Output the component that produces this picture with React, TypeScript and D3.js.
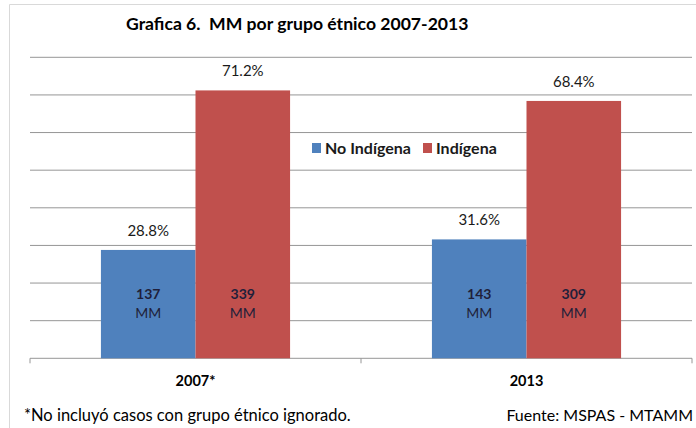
import React from "react";
import * as d3 from "d3";

const categories = ["2007*", "2013"];
const seriesNames = ["No Indígena", "Indígena"];
const pctNoIndigena = [28.8, 31.6];
const pctIndigena = [71.2, 68.4];
const countNoIndigena = [137, 143];
const countIndigena = [339, 309];
const yTicks = [0, 10, 20, 30, 40, 50, 60, 70, 80];
const colors = ["#4F81BD", "#C0504D"];

const W = 696;
const H = 428;
const FONT = "Lato, 'Open Sans', sans-serif";

export default function App() {
  const left = 30;
  const right = 692;
  const top = 57.3;
  const bottom = 358.3;

  const x0 = d3.scaleBand<string>().domain(categories).range([left, right]).paddingInner(0).paddingOuter(0);
  const x1 = d3
    .scaleBand<string>()
    .domain(seriesNames)
    .range([0, x0.bandwidth()])
    .paddingOuter(0.75)
    .paddingInner(0);
  const y = d3.scaleLinear().domain([0, 80]).range([bottom, top]);

  const series = [
    { name: seriesNames[0], pct: pctNoIndigena, count: countNoIndigena, color: colors[0] },
    { name: seriesNames[1], pct: pctIndigena, count: countIndigena, color: colors[1] },
  ];

  return (
    <svg width={W} height={H} style={{ position: "absolute", left: 0, top: 0, background: "#fff" }}>
      <rect x={0} y={0} width={W} height={H} fill="#fff" />
      {/* frame */}
      <line x1={9.5} y1={4.5} x2={W} y2={4.5} stroke="#D9D9D9" />
      <line x1={9.5} y1={4.5} x2={9.5} y2={H} stroke="#D9D9D9" />

      <text x={126} y={30} fontFamily={FONT} fontWeight="bold" fontSize={17.6} fill="#000">
        Grafica 6.{"\u00a0\u00a0"}MM por grupo étnico 2007-2013
      </text>

      {/* gridlines */}
      {yTicks.slice(1).map((t) => (
        <line key={t} x1={left} x2={right} y1={y(t)} y2={y(t)} stroke="#969696" strokeWidth={1} />
      ))}
      {/* x axis */}
      <line x1={left} x2={right} y1={bottom} y2={bottom} stroke="#969696" />
      {[left, left + x0.bandwidth(), right].map((tx, i) => (
        <line key={i} x1={tx} x2={tx} y1={bottom} y2={bottom + 5} stroke="#969696" />
      ))}

      {/* bars */}
      {categories.map((c, ci) => (
        <g key={c} transform={`translate(${x0(c)},0)`}>
          {series.map((s) => {
            const bx = x1(s.name)!;
            const bw = x1.bandwidth();
            const by = y(s.pct[ci]);
            const cx = bx + bw / 2;
            return (
              <g key={s.name}>
                <rect x={bx} y={by} width={bw} height={bottom - by} fill={s.color} />
                <text x={cx} y={by - 14} textAnchor="middle" fontFamily={FONT} fontSize={15} fill="#1a1a1a">
                  {s.pct[ci].toFixed(1)}%
                </text>
                <text x={cx} y={299} textAnchor="middle" fontFamily={FONT} fontWeight="bold" fontSize={14} fill="#1F1F3A">
                  {s.count[ci]}
                </text>
                <text x={cx} y={318} textAnchor="middle" fontFamily={FONT} fontSize={14} fill="#1F1F3A">
                  MM
                </text>
              </g>
            );
          })}
          <text
            x={x0.bandwidth() / 2}
            y={386}
            textAnchor="middle"
            fontFamily={FONT}
            fontWeight="bold"
            fontSize={14.5}
            fill="#000"
          >
            {c}
          </text>
        </g>
      ))}

      {/* legend */}
      <g fontFamily={FONT} fontWeight="bold" fontSize={16} fill="#1a1a1a">
        <rect x={312} y={143} width={9} height={10} fill={colors[0]} />
        <text x={325} y={154}>{seriesNames[0]}</text>
        <rect x={423} y={143} width={9} height={10} fill={colors[1]} />
        <text x={436} y={154}>{seriesNames[1]}</text>
      </g>

      {/* footer */}
      <text x={24} y={421} fontFamily={FONT} fontSize={16.5} fill="#000">
        *No incluyó casos con grupo étnico ignorado.
      </text>
      <text x={693} y={421} textAnchor="end" fontFamily={FONT} fontSize={16} fill="#000">
        Fuente: MSPAS - MTAMM
      </text>
    </svg>
  );
}
